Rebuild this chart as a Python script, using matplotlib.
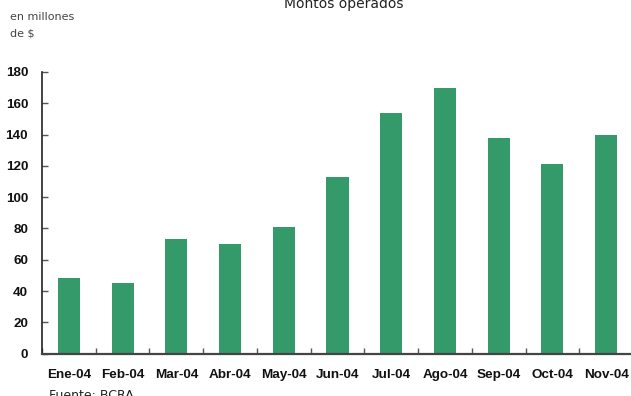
import numpy as np
import matplotlib
matplotlib.use("Agg")
import matplotlib.pyplot as plt

# montos operados por mes, en millones de $
meses = ["Ene-04", "Feb-04", "Mar-04", "Abr-04", "May-04", "Jun-04",
         "Jul-04", "Ago-04", "Sep-04", "Oct-04", "Nov-04"]
montos = [48.3, 45.3, 73.2, 70.0, 81.1, 112.8, 153.7, 169.7, 137.8, 121.2, 139.9]
y_ticks = [0, 20, 40, 60, 80, 100, 120, 140, 160, 180]

fig = plt.figure(figsize=(6.31, 3.96), dpi=100)
ax = fig.add_axes([42 / 631, 42.4 / 396, 591 / 631, 281.6 / 396])

x = np.arange(len(meses))
ax.bar(x, montos, width=0.41, color="#349a69", zorder=2)

ax.set_xlim(-0.5, len(meses) - 0.5)
ax.set_ylim(0, 180)
ax.set_yticks(y_ticks)
ax.set_yticklabels([str(v) for v in y_ticks])

# rótulos de meses centrados, marcas entre categorías
ax.set_xticks(x)
ax.set_xticklabels(meses)
ax.set_xticks(np.arange(-0.5, len(meses), 1.0), minor=True)
ax.tick_params(axis="x", which="major", length=0, pad=11)
ax.tick_params(axis="x", which="minor", direction="in", length=4, width=1, color="#555555")
ax.tick_params(axis="y", direction="in", length=4, width=1, color="#555555", pad=10)

for lab in ax.get_xticklabels() + ax.get_yticklabels():
    lab.set_fontfamily("Liberation Sans")
    lab.set_fontweight("bold")
    lab.set_fontsize(9.7)
    lab.set_color("#111111")

ax.spines["top"].set_visible(False)
ax.spines["right"].set_visible(False)
ax.spines["left"].set_color("#222222")
ax.spines["left"].set_linewidth(1.2)
ax.spines["bottom"].set_color("#444444")
ax.spines["bottom"].set_linewidth(1.6)
ax.spines["bottom"].set_zorder(3)

fig.text(344 / 631, 1 - 8 / 396, "Montos operados", ha="center", va="baseline",
         fontsize=10, color="#222222", family="DejaVu Sans")
fig.text(10 / 631, 1 - 20 / 396, "en millones", ha="left", va="baseline",
         fontsize=8, color="#444444", family="DejaVu Sans")
fig.text(10 / 631, 1 - 37 / 396, "de $", ha="left", va="baseline",
         fontsize=8, color="#444444", family="DejaVu Sans")
fig.text(49 / 631, 1 - 399 / 396, "Fuente: BCRA", ha="left", va="baseline",
         fontsize=9, color="#222222", family="DejaVu Sans")

fig.savefig("out.png", dpi=100)
